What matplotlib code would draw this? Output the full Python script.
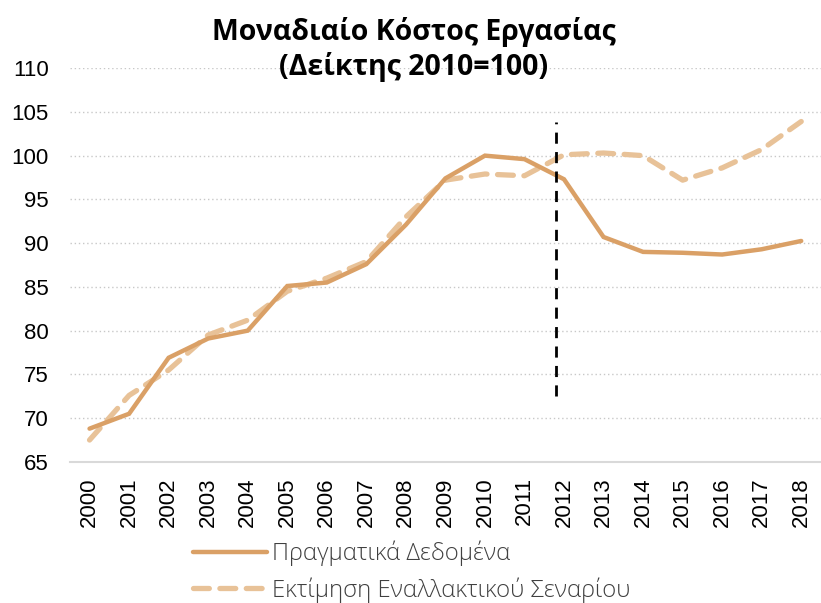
import numpy as np
import matplotlib
matplotlib.use('Agg')
import matplotlib.pyplot as plt

plt.rcParams['font.family'] = ['Liberation Sans', 'DejaVu Sans']

# δεδομένα
years = [str(y) for y in range(2000, 2019)]
actual = [68.8, 70.5, 76.9, 79.1, 80.0, 85.1, 85.5, 87.6, 92.1, 97.4,
          100.0, 99.6, 97.3, 90.7, 89.0, 88.9, 88.7, 89.3, 90.25]
scenario = [67.5, 72.6, 75.5, 79.5, 81.2, 84.5, 86.0, 87.9, 93.0, 97.2,
            97.9, 97.7, 100.1, 100.3, 100.0, 97.2, 98.6, 100.7, 103.9]
yticks = [65, 70, 75, 80, 85, 90, 95, 100, 105, 110]
vline_x = 11.8
vline_y = [72.5, 103.8]

title = 'Μοναδιαίο Κόστος Εργασίας\n(Δείκτης 2010=100)'
lab_actual = 'Πραγματικά Δεδομένα'
lab_scen = 'Εκτίμηση Εναλλακτικού Σεναρίου'

fig = plt.figure(figsize=(8.21, 6.03), dpi=100)
ax = fig.add_axes([0.085, 0.234, 0.915, 0.653])

x = np.arange(len(years))
ax.plot(x, actual, color='#DAA066', lw=3.2, solid_joinstyle='miter',
        solid_capstyle='round', label=lab_actual, zorder=3)
ax.plot(x, scenario, color='#E8C298', lw=3.8, linestyle=(0, (3, 2)),
        dash_capstyle='round', label=lab_scen, zorder=2)
ax.plot([vline_x, vline_x], vline_y, color='black', lw=2,
        linestyle=(0, (4, 3)), zorder=4)

ax.set_xlim(-0.5, len(years) - 0.5)
ax.set_ylim(65, 110)
ax.set_yticks(yticks)
ax.set_xticks(x)
ax.set_xticklabels(years, rotation=90)
ax.tick_params(axis='both', length=0, labelsize=16, colors='black')
ax.tick_params(axis='y', pad=15)
ax.tick_params(axis='x', pad=11)

ax.grid(axis='y', color='#C8C8C8', linestyle=(0, (1, 2)), lw=1)
ax.set_axisbelow(True)
for s in ['top', 'right', 'left']:
    ax.spines[s].set_visible(False)
ax.spines['bottom'].set_color('#D9D9D9')
ax.spines['bottom'].set_linewidth(1.5)

fig.text(0.504, 0.972, title, ha='center', va='top', fontsize=20.5,
         fontweight='bold', family=['Open Sans', 'DejaVu Sans'],
         linespacing=1.22)

leg = fig.legend(loc='upper left', bbox_to_anchor=(193 / 821, 1 - 541 / 603),
                 frameon=False, handlelength=3.1, borderpad=0,
                 borderaxespad=0, handletextpad=0.2, labelspacing=0.45,
                 prop={'family': ['Open Sans', 'DejaVu Sans'],
                       'weight': 'light', 'size': 17.2})
for t in leg.get_texts():
    t.set_color('#404040')

fig.savefig('out.png', dpi=100)
